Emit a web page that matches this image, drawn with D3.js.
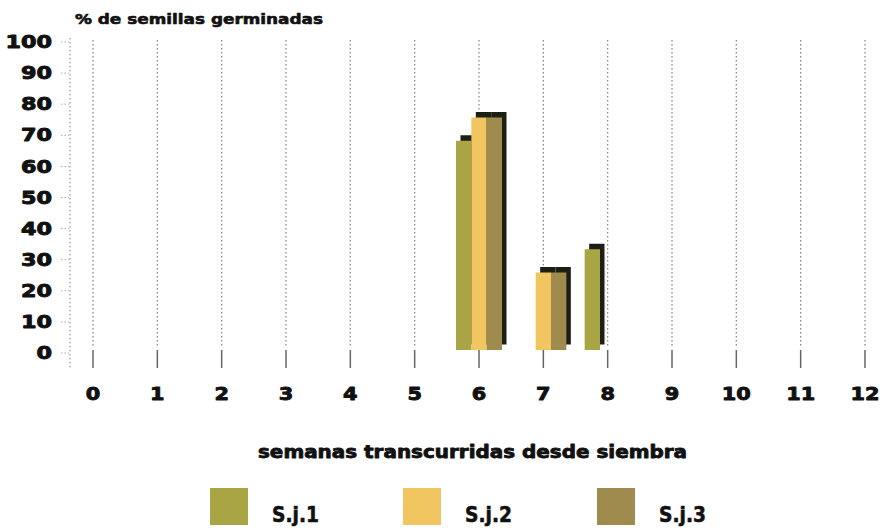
<!DOCTYPE html>
<html><head><meta charset="utf-8">
<script src="https://cdn.jsdelivr.net/npm/d3@7/dist/d3.min.js"></script>
<style>
body{margin:0;background:#fff;}
text{font-family:"DejaVu Sans",sans-serif;font-weight:bold;fill:#111;stroke:#111;stroke-linejoin:round;}
</style></head><body>
<svg id="c" width="890" height="528"></svg>
<script>
const weeks = [0,1,2,3,4,5,6,7,8,9,10,11,12];
const seriesNames = ["S.j.1","S.j.2","S.j.3"];
const sj1 = [0,0,0,0,0,0,67.5,0,32.5,0,0,0,0];
const sj2 = [0,0,0,0,0,0,75,25,0,0,0,0,0];
const sj3 = [0,0,0,0,0,0,75,25,0,0,0,0,0];
const yTicks = [0,10,20,30,40,50,60,70,80,90,100];
const colors = ["#a9a444","#f1c55f","#a08b4e"];
const yTitle = "% de semillas germinadas";
const xTitle = "semanas transcurridas desde siembra";

const svg = d3.select("#c");
const x = d3.scaleLinear().domain([0,12]).range([93,865]);
const y = d3.scaleLinear().domain([0,100]).range([350,40]);
const yl = d3.scaleLinear().domain([0,100]).range([353,42]);
const sub = d3.scaleBand().domain(seriesNames).range([-23,23]);

// vertical gridlines
const g = svg.append("g");
weeks.forEach(w=>{
  g.append("line").attr("x1",x(w)).attr("x2",x(w)).attr("y1",40).attr("y2",346)
    .attr("stroke","#8a8a8a").attr("stroke-width",1.3).attr("stroke-dasharray","1.5,2.5");
  g.append("line").attr("x1",x(w)).attr("x2",x(w)).attr("y1",350).attr("y2",368)
    .attr("stroke","#666").attr("stroke-width",1.5);
});
// y axis dotted line
g.append("line").attr("x1",70).attr("x2",70).attr("y1",38).attr("y2",368)
  .attr("stroke","#999").attr("stroke-width",1.2).attr("stroke-dasharray","1.5,2.5");
yTicks.forEach(t=>{
  g.append("line").attr("x1",61).attr("x2",69).attr("y1",yl(t)).attr("y2",yl(t))
   .attr("stroke","#aaa").attr("stroke-width",1).attr("stroke-dasharray","1.5,2");
  const s = String(t);
  svg.append("text").attr("x",52).attr("y",yl(t)).attr("dy","0.36em")
    .attr("text-anchor","end").attr("font-size",17).attr("stroke-width",0.9)
    .attr("textLength",s.length*15.5).attr("lengthAdjust","spacingAndGlyphs").text(s);
});
// x labels
weeks.forEach(w=>{
  const s = String(w);
  svg.append("text").attr("x",x(w)).attr("y",394).attr("dy","0.36em")
    .attr("text-anchor","middle").attr("font-size",18).attr("stroke-width",0.9)
    .attr("textLength",s.length*14.5).attr("lengthAdjust","spacingAndGlyphs").text(s);
});

// bars
const data = [sj1,sj2,sj3];
const bw = sub.bandwidth();
const barG = svg.append("g");
weeks.forEach((w,i)=>{
  seriesNames.forEach((s,k)=>{
    const v = data[k][i];
    if(!v) return;
    const bx = x(w)+sub(s);
    barG.append("rect").attr("x",bx+4.5).attr("y",y(v)-5.5).attr("width",bw).attr("height",y(0)-y(v))
      .attr("fill","#1d1e14");
    barG.append("rect").attr("x",bx).attr("y",y(v)).attr("width",bw).attr("height",y(0)-y(v))
      .attr("fill",colors[k]);
  });
});

// titles
svg.append("text").attr("x",75).attr("y",24).attr("font-size",14).attr("stroke-width",0.6).attr("textLength",248)
  .attr("lengthAdjust","spacingAndGlyphs").text(yTitle);
svg.append("text").attr("x",258).attr("y",458).attr("font-size",17).attr("stroke-width",0.8).attr("textLength",429)
  .attr("lengthAdjust","spacingAndGlyphs").text(xTitle);

// legend
const lx = [210,403,597];
seriesNames.forEach((s,k)=>{
  svg.append("rect").attr("x",lx[k]).attr("y",488).attr("width",38).attr("height",37).attr("fill",colors[k]);
  svg.append("text").attr("x",lx[k]+62).attr("y",522).attr("font-size",21).attr("stroke-width",0.6).attr("textLength",47)
    .attr("lengthAdjust","spacingAndGlyphs").text(s);
});
</script></body></html>
